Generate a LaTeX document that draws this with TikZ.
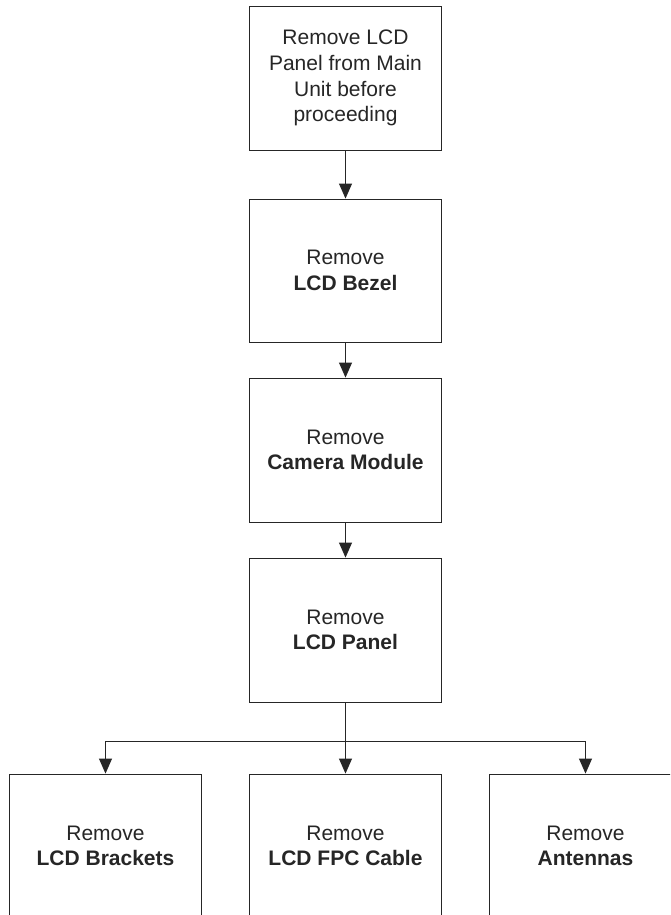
\documentclass[tikz,border=0pt]{standalone}
\usepackage{fontspec}
\setmainfont{Liberation Sans}
\usetikzlibrary{arrows.meta}
\definecolor{ink}{HTML}{262626}
\begin{document}
\begin{tikzpicture}[x=1pt,y=-1pt,
  stepbox/.style={draw=ink,line width=0.9pt,minimum width=192pt,minimum height=144pt,
    align=center,text=ink,inner sep=0pt,font=\fontsize{21}{25.7}\selectfont},
  conn/.style={draw=ink,line width=0.9pt,-{Triangle[length=15pt,width=13pt]}},
  plain/.style={draw=ink,line width=0.9pt}]
\clip (0,0) rectangle (670,915);
\fill[white] (0,0) rectangle (670,915);
\node[stepbox] (b1) at (345.5,78) {Remove LCD\\Panel from Main\\Unit before\\proceeding};
\node[stepbox,minimum height=143pt] (b2) at (345.5,270.5) {Remove\\\textbf{LCD Bezel}};
\node[stepbox] (b3) at (345.5,450) {Remove\\\textbf{Camera Module}};
\node[stepbox] (b4) at (345.5,630) {Remove\\\textbf{LCD Panel}};
\node[stepbox] (b5) at (105.5,846) {Remove\\\textbf{LCD Brackets}};
\node[stepbox] (b6) at (345.5,846) {Remove\\\textbf{LCD FPC Cable}};
\node[stepbox] (b7) at (585.5,846) {Remove\\\textbf{Antennas}};
\coordinate (j) at (345.5,741);
\draw[conn] (b1) -- (b2);
\draw[conn] (b2) -- (b3);
\draw[conn] (b3) -- (b4);
\draw[plain] (b4.south) -- (j);
\draw[conn] (j) -- (b6.north);
\draw[conn] (j) -| (b5.north);
\draw[conn] (j) -| (b7.north);
\end{tikzpicture}
\end{document}
